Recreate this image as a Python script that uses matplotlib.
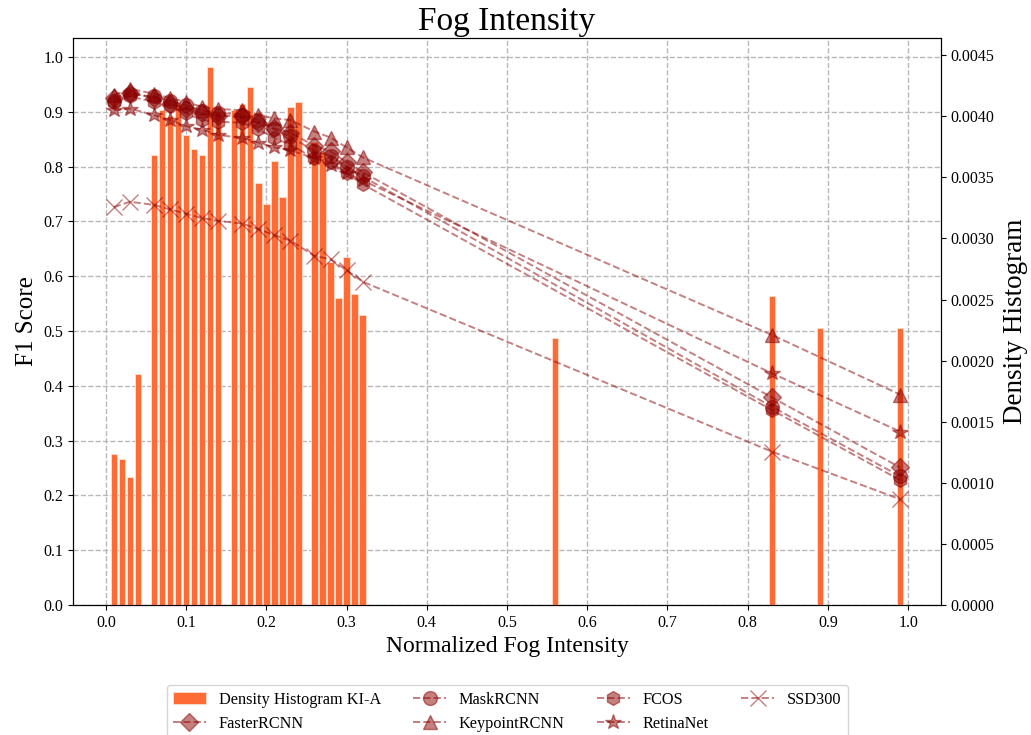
import matplotlib
matplotlib.use("Agg")
import matplotlib.pyplot as plt
from matplotlib.ticker import FormatStrFormatter
import numpy as np

plt.rcParams['font.family'] = ['Liberation Serif', 'DejaVu Serif']

# Histogram data (density)
hist_x = [0.01, 0.02, 0.03, 0.04,
          0.06, 0.07, 0.08, 0.09, 0.10, 0.11, 0.12, 0.13, 0.14,
          0.16, 0.17, 0.18, 0.19, 0.20, 0.21, 0.22, 0.23, 0.24,
          0.26, 0.27, 0.28, 0.29, 0.30, 0.31, 0.32,
          0.56, 0.83, 0.89, 0.99]
hist_density = [0.001238, 0.001193, 0.001049, 0.001888,
                0.003682, 0.004054, 0.004000, 0.004103, 0.003848, 0.003731, 0.003686, 0.004399, 0.004036,
                0.004054, 0.004103, 0.004242, 0.003457, 0.003283, 0.003637, 0.003341, 0.004072, 0.004117,
                0.003789, 0.003709, 0.002803, 0.002511, 0.002848, 0.002543, 0.002377,
                0.002184, 0.002525, 0.002269, 0.002269]

# F1 scores
fog_x = [0.01, 0.03, 0.06, 0.08, 0.10, 0.12, 0.14, 0.17, 0.19, 0.21, 0.23,
         0.26, 0.28, 0.30, 0.32, 0.83, 0.99]
faster_rcnn = [0.925, 0.935, 0.925, 0.915, 0.905, 0.897, 0.893, 0.892, 0.880, 0.870, 0.862,
               0.838, 0.828, 0.808, 0.790, 0.379, 0.251]
mask_rcnn = [0.920, 0.932, 0.928, 0.920, 0.912, 0.902, 0.898, 0.895, 0.885, 0.868, 0.855,
             0.828, 0.820, 0.800, 0.782, 0.362, 0.235]
keypoint_rcnn = [0.930, 0.942, 0.933, 0.925, 0.918, 0.909, 0.905, 0.903, 0.894, 0.888, 0.885,
                 0.864, 0.853, 0.835, 0.817, 0.493, 0.384]
fcos = [0.918, 0.928, 0.918, 0.910, 0.897, 0.885, 0.882, 0.880, 0.868, 0.852, 0.840,
        0.815, 0.808, 0.788, 0.768, 0.356, 0.228]
retinanet = [0.903, 0.906, 0.894, 0.885, 0.874, 0.867, 0.858, 0.852, 0.844, 0.835, 0.830,
             0.815, 0.803, 0.788, 0.775, 0.423, 0.3165]
ssd300 = [0.726, 0.736, 0.730, 0.722, 0.714, 0.706, 0.701, 0.696, 0.686, 0.675, 0.665,
          0.637, 0.631, 0.611, 0.590, 0.280, 0.193]

series = [("FasterRCNN", faster_rcnn, "D"),
          ("MaskRCNN", mask_rcnn, "o"),
          ("KeypointRCNN", keypoint_rcnn, "^"),
          ("FCOS", fcos, "h"),
          ("RetinaNet", retinanet, "*"),
          ("SSD300", ssd300, "x")]

fig = plt.figure(figsize=(10.31, 7.35), dpi=100)
rect = [73 / 1031, 1 - 605 / 735, (941 - 73) / 1031, (605 - 38) / 735]
ax = fig.add_axes(rect)
ax2 = ax.twinx()
axl = fig.add_axes(rect, sharex=ax, sharey=ax)
axl.set_zorder(ax2.get_zorder() + 1)
axl.patch.set_visible(False)
axl.axis('off')

ax.set_axisbelow(True)
ax.grid(True, linestyle='--', color='#b8b8b8', linewidth=1.0)

bars = ax2.bar(hist_x, hist_density, width=0.008, color='#FF6B35',
               edgecolor='#ffe0d0', linewidth=0.6, label='Density Histogram KI-A')

line_color = '#8B0000'
handles = [bars]
for name, vals, mk in series:
    ms = {'*': 11.5, 'x': 11, 'D': 9, 'o': 10, '^': 10, 'h': 10}[mk]
    h, = axl.plot(fog_x, vals, linestyle='--', marker=mk, color=line_color, alpha=0.5,
                  linewidth=1.4, markersize=ms, label=name)
    handles.append(h)

ax.set_xlim(-0.041, 1.041)
ax.set_ylim(0, 1.0347)
ax2.set_ylim(0, 0.00464)
ax.set_xticks(np.arange(0, 1.01, 0.1))
ax.set_yticks(np.arange(0, 1.01, 0.1))
ax2.set_yticks(np.arange(0, 0.00451, 0.0005))
ax.xaxis.set_major_formatter(FormatStrFormatter('%.1f'))
ax.yaxis.set_major_formatter(FormatStrFormatter('%.1f'))
ax2.yaxis.set_major_formatter(FormatStrFormatter('%.4f'))
ax.tick_params(labelsize=11.5)
ax2.tick_params(labelsize=11.5)

ax.set_xlabel('Normalized Fog Intensity', fontsize=17)
ax.set_ylabel('F1 Score', fontsize=18)
ax2.set_ylabel('Density Histogram', fontsize=19.5, labelpad=6)
ax.set_title('Fog Intensity', fontsize=24)

fig.legend(handles=handles, labels=[h.get_label() for h in handles],
           loc='upper center', bbox_to_anchor=(0.492, 0.079), ncol=4, fontsize=11.7)

fig.savefig('out.png', dpi=100)
